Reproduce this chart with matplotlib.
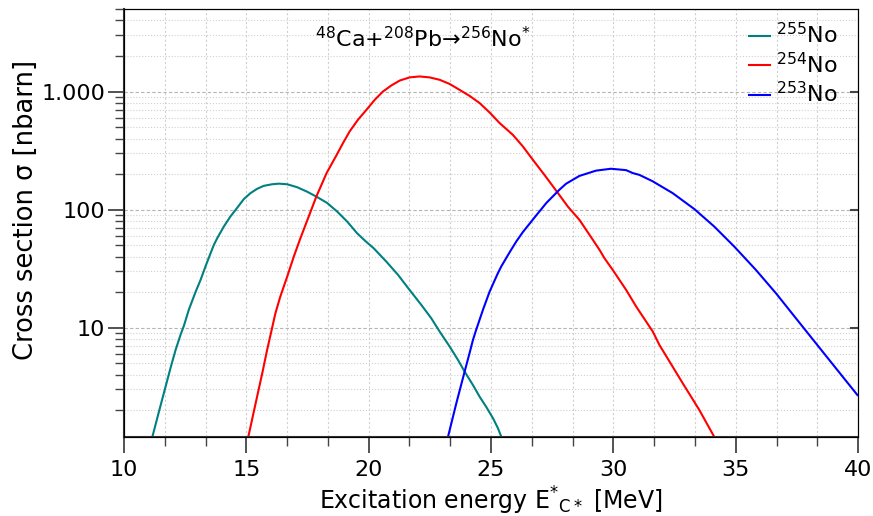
import matplotlib
matplotlib.use('Agg')
import matplotlib.pyplot as plt
import matplotlib.ticker as mticker
import numpy as np

plt.rcParams['font.family'] = ['DejaVu Sans']
plt.rcParams['mathtext.fontset'] = 'custom'
plt.rcParams['mathtext.rm'] = 'DejaVu Sans'

# excitation energy [MeV] and cross sections [nbarn]
e_255 = [11.16, 11.43, 11.70, 11.90, 12.11, 12.31, 12.45, 12.65, 12.93, 13.13, 13.33,
         13.54, 13.67, 13.81, 14.08, 14.35, 14.56, 14.90, 15.17, 15.44, 15.71, 16.05,
         16.33, 16.67, 17.07, 17.48, 17.86, 18.30, 18.71, 19.12, 19.52, 19.86, 20.20,
         20.72, 21.20, 21.67, 22.15, 22.56, 22.90, 23.31, 23.65, 23.92, 24.26, 24.53,
         24.80, 25.08, 25.28, 25.42]
s_255 = [1.19, 1.95, 3.17, 4.54, 6.49, 8.69, 10.4, 14.2, 20.2, 25.4, 33.0,
         42.8, 50.1, 57.3, 71.9, 87.5, 99.5, 123, 138, 150, 159, 164,
         166, 164, 155, 142, 129, 114, 96.4, 79.3, 63.3, 54.3, 47.2,
         36.3, 28.0, 20.9, 15.6, 12.0, 9.27, 6.92, 5.33, 4.25, 3.27, 2.61,
         2.14, 1.71, 1.41, 1.19]

e_254 = [15.08, 15.44, 15.65, 15.85, 16.19, 16.39, 16.67, 16.94, 17.21, 17.55, 17.86,
         18.28, 18.68, 18.95, 19.22, 19.56, 19.91, 20.25, 20.58, 20.93, 21.27, 21.67,
         22.08, 22.49, 22.90, 23.31, 23.71, 24.12, 24.53, 24.94, 25.35, 25.89, 26.30,
         26.71, 27.18, 27.69, 28.14, 28.61, 29.16, 29.43, 29.63, 29.97, 30.52, 30.93,
         31.61, 31.88, 32.83, 33.51, 34.12]
s_254 = [1.19, 2.61, 4.11, 6.49, 13.3, 18.4, 27.1, 40.1, 57.3, 87.5, 129,
         204, 288, 366, 459, 577, 701, 853, 1000, 1128, 1240, 1318,
         1343, 1318, 1258, 1159, 1035, 920, 800, 665, 541, 430, 343,
         264, 197, 142, 106, 82, 55.5, 45.7, 38.9, 30.9, 20.9, 15.1,
         9.27, 7.14, 3.39, 2.01, 1.19]

e_253 = [23.24, 23.58, 23.92, 24.12, 24.26, 24.39, 24.67, 24.94, 25.28, 25.42, 25.69,
         25.82, 26.03, 26.30, 26.84, 27.26, 27.80, 28.07, 28.61, 29.29, 29.90, 30.52,
         30.79, 31.06, 31.60, 32.42, 33.31, 34.12, 34.94, 35.82, 36.64, 37.46, 38.27,
         39.09, 39.97]
s_253 = [1.19, 2.29, 4.25, 6.08, 7.88, 9.58, 14.2, 20.2, 29.0, 33.1, 41.2,
         45.7, 53.7, 64.6, 89.1, 114, 148, 166, 193, 214, 222, 216,
         204, 197, 174, 138, 101, 71.9, 48.6, 30.9, 19.6, 12.0, 7.40,
         4.54, 2.69]

labels = ['$^{255}$No', '$^{254}$No', '$^{253}$No']
colors = ['#008080', '#ff0000', '#0000ff']

fig = plt.figure(figsize=(8.73, 5.16), dpi=100)
ax = fig.add_axes([0.142, 0.1525, 0.841, 0.830])

for e, s, lab, c in zip([e_255, e_254, e_253], [s_255, s_254, s_253], labels, colors):
    ax.plot(e, s, color=c, lw=1.5, label=lab, solid_joinstyle='round')

ax.set_yscale('log')
ax.set_xlim(10, 40)
ax.set_ylim(1.18, 5000)

ax.xaxis.set_major_locator(mticker.MultipleLocator(5))
ax.xaxis.set_minor_locator(mticker.MultipleLocator(5 / 3))
ax.yaxis.set_major_locator(mticker.FixedLocator([10, 100, 1000]))
ax.yaxis.set_minor_locator(mticker.LogLocator(base=10, subs=np.arange(2, 10)))
ax.yaxis.set_major_formatter(mticker.FixedFormatter(['10', '100', '1.000']))
ax.yaxis.set_minor_formatter(mticker.NullFormatter())

ax.grid(True, which='major', axis='y', color='#b4b4b4', ls=(0, (3, 2)), lw=0.8)
ax.grid(True, which='minor', axis='y', color='#d0d0d0', ls=':', lw=0.8)
ax.grid(True, which='both', axis='x', color='#d0d0d0', ls=(0, (2, 2)), lw=0.8)

ax.tick_params(which='major', direction='out', length=11.5, width=1.3, color='#444444',
               labelsize=16)
ax.tick_params(axis='x', which='major', pad=5)
ax.tick_params(axis='y', which='major', pad=2)
ax.tick_params(which='minor', direction='out', length=6.5, width=1.0, color='#444444')

# right side: only major ticks, pointing inward
ax_r = ax.twinx()
ax_r.set_yscale('log')
ax_r.set_ylim(ax.get_ylim())
ax_r.yaxis.set_major_locator(mticker.FixedLocator([10, 100, 1000]))
ax_r.yaxis.set_minor_locator(mticker.NullLocator())
ax_r.tick_params(axis='y', direction='in', length=6, width=1.5, color='#444444',
                 labelright=False)

for sp in ['left', 'bottom']:
    ax.spines[sp].set_color('#333333')
    ax.spines[sp].set_linewidth(1.5)

ax.set_xlabel('Excitation energy E$^{*}$$_{\\mathrm{C*}}$ [MeV]', fontsize=17, labelpad=3)
ax.set_ylabel('Cross section σ [nbarn]', fontsize=18.5)
ax.yaxis.set_label_coords(-0.116, 0.53)

ax.text(0.407, 0.932, '$^{48}$Ca+$^{208}$Pb→$^{256}$No$^{*}$', transform=ax.transAxes,
        ha='center', va='center', fontsize=16)

ax.legend(loc='upper right', bbox_to_anchor=(0.984, 0.99), borderaxespad=0,
          frameon=False, fontsize=16, handlelength=0.95,
          handletextpad=0.25, labelspacing=0.2)

fig.savefig('out.png', dpi=100)
